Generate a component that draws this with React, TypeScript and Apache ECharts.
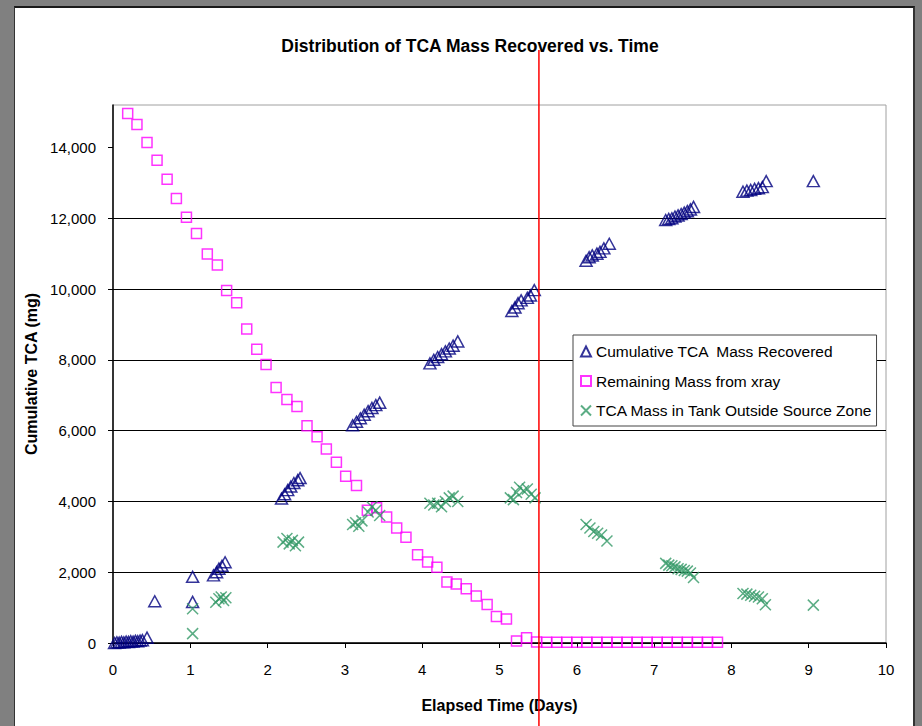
import React, { useEffect, useRef } from "react";
import * as echarts from "echarts";

// Cumulative TCA Mass Recovered (triangles)
const recoveredDays = [
  0.02, 0.05, 0.08, 0.11, 0.14, 0.17, 0.2, 0.23, 0.26, 0.29, 0.32, 0.35, 0.38, 0.44,
  0.54, 1.03, 1.03,
  1.3, 1.34, 1.37, 1.41, 1.45,
  2.18, 2.22, 2.26, 2.3, 2.34, 2.39, 2.42,
  3.1, 3.15, 3.2, 3.25, 3.3, 3.35, 3.4, 3.45,
  4.1, 4.15, 4.2, 4.25, 4.3, 4.35, 4.4, 4.46,
  5.16, 5.2, 5.24, 5.28, 5.36, 5.4, 5.45,
  6.12, 6.16, 6.2, 6.26, 6.3, 6.35, 6.42,
  7.15, 7.19, 7.23, 7.27, 7.31, 7.35, 7.39, 7.43, 7.47, 7.51,
  8.15, 8.2, 8.25, 8.3, 8.35, 8.4, 8.45,
  9.06,
];
const recoveredMass = [
  0, 20, 10, 30, 20, 40, 30, 50, 40, 60, 50, 70, 80, 150,
  1180, 1870, 1160,
  1910, 2000, 2100, 2180, 2280,
  4080, 4200, 4320, 4420, 4520, 4600, 4660,
  6150, 6250, 6350, 6450, 6550, 6640, 6720, 6790,
  7900, 8000, 8080, 8160, 8240, 8320, 8400, 8520,
  9380, 9480, 9600, 9680, 9750, 9820, 9970,
  10800, 10900, 10950, 11000, 11050, 11150, 11280,
  11950, 11980, 12000, 12050, 12080, 12120, 12160, 12200, 12250, 12320,
  12750, 12780, 12800, 12830, 12850, 12880, 13050,
  13050,
];

// Remaining Mass from xray (squares)
const remainingDays = [
  0.19, 0.31, 0.44, 0.57, 0.7, 0.82, 0.95, 1.08, 1.22, 1.35, 1.47, 1.6, 1.73, 1.86, 1.98,
  2.11, 2.25, 2.38, 2.51, 2.64, 2.76, 2.89, 3.01, 3.15, 3.29, 3.41, 3.54, 3.67, 3.79, 3.94,
  4.07, 4.19, 4.32, 4.44, 4.57, 4.7, 4.84, 4.96, 5.09, 5.22, 5.35, 5.48,
  5.61, 5.74, 5.87, 6.0, 6.13, 6.26, 6.39, 6.52, 6.65, 6.78, 6.91, 7.04, 7.17, 7.3, 7.43,
  7.56, 7.69, 7.82,
];
const remainingMass = [
  14960, 14650, 14140, 13640, 13100, 12560, 12030, 11570, 10990, 10680, 9960, 9610, 8870, 8300, 7870,
  7220, 6880, 6680, 6140, 5830, 5480, 5110, 4710, 4450, 3750, 3820, 3560, 3250, 2990, 2490,
  2290, 2140, 1720, 1670, 1530, 1330, 1090, 750, 680, 60, 150, 30,
  20, 20, 20, 20, 20, 20, 20, 20, 20, 20, 20, 20, 20, 20, 20,
  20, 20, 20,
];

// TCA Mass in Tank Outside Source Zone (crosses)
const outsideDays = [
  1.03, 1.03,
  1.33, 1.37, 1.4, 1.43, 1.46,
  2.2, 2.25, 2.28, 2.32, 2.36, 2.4,
  3.1, 3.14, 3.18, 3.22, 3.3, 3.35, 3.4, 3.45,
  4.1, 4.15, 4.2, 4.25, 4.3, 4.35, 4.4, 4.46,
  5.14, 5.18, 5.22, 5.26, 5.31, 5.36, 5.41, 5.46,
  6.12, 6.17, 6.22, 6.27, 6.32, 6.39,
  7.15, 7.19, 7.23, 7.27, 7.31, 7.35, 7.39, 7.43, 7.47, 7.51,
  8.15, 8.2, 8.25, 8.3, 8.35, 8.4, 8.44,
  9.06,
];
const outsideMass = [
  265, 970,
  1150, 1250, 1300, 1200, 1280,
  2850, 2950, 2800, 2900, 2750, 2850,
  3350, 3400, 3300, 3450, 3700, 3850, 3750, 3600,
  3950, 3900, 3950, 3850, 4000, 4100, 4150, 4000,
  4100, 4050, 4250, 4400, 4300, 4350, 4200, 4100,
  3350, 3250, 3150, 3100, 3050, 2880,
  2250, 2200, 2180, 2150, 2100, 2080, 2050, 2030, 1980, 1850,
  1400, 1380, 1350, 1320, 1300, 1250, 1080,
  1070,
];

const yTicks = [0, 2000, 4000, 6000, 8000, 10000, 12000, 14000];
const sourceDepletionDay = 5.51;

const seriesNames = [
  "Cumulative TCA  Mass Recovered",
  "Remaining Mass from xray",
  "TCA Mass in Tank Outside Source Zone",
];

const zip = (xs: number[], ys: number[]) => xs.map((x, i) => [x, ys[i]]);

const FONT = "'Liberation Sans', Arial, sans-serif";

export default function App() {
  const ref = useRef<HTMLDivElement>(null);
  useEffect(() => {
    document.body.style.margin = "0";
    const chart = echarts.init(ref.current!, null, { renderer: "svg" });
    chart.setOption({
      animation: false,
      title: {
        text: "Distribution of TCA Mass Recovered vs. Time",
        left: 465,
        textAlign: "center",
        top: 32,
        textStyle: { fontFamily: FONT, fontSize: 17.5, fontWeight: "bold", color: "#000" },
      },
      grid: {
        left: 113,
        right: 36,
        top: 105,
        bottom: 83,
        show: true,
        borderColor: "#a0a0a0",
        borderWidth: 1,
        backgroundColor: "transparent",
      },
      legend: {
        orient: "vertical",
        left: 573,
        top: 335,
        padding: [7, 4, 6, 7],
        itemGap: 10.5,
        itemWidth: 10,
        itemHeight: 10,
        backgroundColor: "#fff",
        borderColor: "#444",
        borderWidth: 1,
        borderRadius: 0,
        textStyle: { fontFamily: FONT, fontSize: 15.5, color: "#000", lineHeight: 19 },
        data: seriesNames,
      },
      xAxis: {
        type: "value",
        min: 0,
        max: 10,
        interval: 1,
        name: "Elapsed Time (Days)",
        nameLocation: "middle",
        nameGap: 54,
        nameTextStyle: { fontFamily: FONT, fontSize: 16, fontWeight: "bold", color: "#000" },
        axisLine: { show: true, lineStyle: { color: "#000", width: 1.5 } },
        axisTick: { show: true, length: 5, inside: false, lineStyle: { color: "#000" } },
        axisLabel: { fontFamily: FONT, fontSize: 15, color: "#000", margin: 19 },
        splitLine: { show: false },
      },
      yAxis: {
        type: "value",
        min: 0,
        max: 15200,
        interval: 2000,
        name: "Cumulative TCA (mg)",
        nameLocation: "middle",
        nameGap: 72,
        nameTextStyle: { fontFamily: FONT, fontSize: 16, fontWeight: "bold", color: "#000" },
        axisLine: { show: true, lineStyle: { color: "#000", width: 1.5 } },
        axisTick: { show: true, length: 5, lineStyle: { color: "#000" }, customValues: yTicks },
        axisLabel: {
          fontFamily: FONT,
          fontSize: 15,
          color: "#000",
          margin: 17,
          customValues: yTicks,
          formatter: (v: number) => (v % 2000 === 0 ? v.toLocaleString("en-US") : ""),
        },
        splitLine: { show: true, showMaxLine: false, lineStyle: { color: "#000", width: 1 } },
      },
      series: [
        {
          name: seriesNames[0],
          type: "scatter",
          symbol: "triangle",
          symbolSize: [12, 11],
          itemStyle: { color: "transparent", borderColor: "#000080", borderWidth: 1.5 },
          data: zip(recoveredDays, recoveredMass),
          z: 3,
        },
        {
          name: seriesNames[1],
          type: "scatter",
          symbol: "rect",
          symbolSize: 10,
          itemStyle: { color: "transparent", borderColor: "#ff00ff", borderWidth: 1.5 },
          data: zip(remainingDays, remainingMass),
          z: 2,
        },
        {
          name: seriesNames[2],
          type: "scatter",
          symbol: "path://M0,0L10,10M10,0L0,10",
          symbolSize: 11,
          itemStyle: { color: "transparent", borderColor: "#339966", borderWidth: 1.5 },
          data: zip(outsideDays, outsideMass),
          z: 4,
        },
      ],
    });
    const px = chart.convertToPixel({ xAxisIndex: 0 }, sourceDepletionDay) as number;
    chart.setOption({
      graphic: [
        {
          type: "line",
          shape: { x1: px, y1: 50, x2: px, y2: 726 },
          style: { stroke: "#ff0000", lineWidth: 1.5 },
          z: 100,
        },
      ],
    });
    return () => chart.dispose();
  }, []);
  return (
    <div style={{ position: "relative", width: 922, height: 726, background: "#808080", overflow: "hidden" }}>
      <div
        style={{
          position: "absolute",
          left: 14,
          top: 6,
          width: 901,
          height: 740,
          background: "#fff",
          borderTop: "2px solid #1a1a1a",
          borderLeft: "1px solid #333",
          borderRight: "2px solid #333",
          boxSizing: "border-box",
        }}
      />
      <div ref={ref} style={{ position: "absolute", left: 0, top: 0, width: 922, height: 726 }} />
    </div>
  );
}
